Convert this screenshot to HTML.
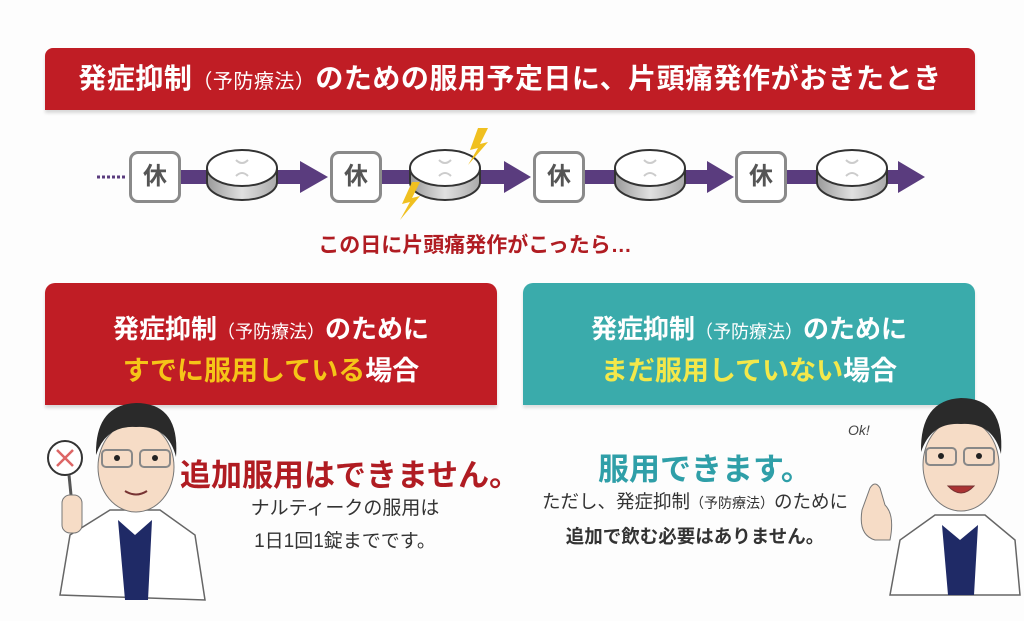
<!DOCTYPE html>
<html><head><meta charset="utf-8">
<style>
*{margin:0;padding:0;box-sizing:border-box}
body{width:1024px;height:621px;background:#fdfdfd;position:relative;overflow:hidden;font-family:"Liberation Sans","Noto Sans CJK JP",sans-serif}
.abs{position:absolute}
.banner{left:45px;top:48px;width:930px;height:62px;background:#c01d25;border-radius:8px 8px 0 0;color:#fff;font-size:28px;font-weight:bold;text-align:center;line-height:62px;letter-spacing:0.5px;box-shadow:0 3px 3px rgba(0,0,0,0.15)}
.sm{font-size:20px;font-weight:normal}
.kyu{width:52px;height:52px;border:3px solid #8a8a8a;border-radius:9px;background:#fff;font-size:24px;color:#555;text-align:center;line-height:46px;font-weight:bold;top:151px}
.box{top:283px;width:452px;height:122px;border-radius:10px 10px 0 0;text-align:center;color:#fff;font-weight:bold}
.box .l1{font-size:26px;margin-top:30px;line-height:32px}
.box .l1 .sm{font-size:18px}
.box .l2{font-size:27px;margin-top:6px;line-height:34px}
</style></head><body>
<div class="abs banner">発症抑制<span class="sm">（予防療法）</span>のための服用予定日に、片頭痛発作がおきたとき</div>

<svg class="abs" style="left:0;top:120px" width="1024" height="110">
  <line x1="97" y1="57" x2="127" y2="57" stroke="#5a3c7e" stroke-width="3" stroke-dasharray="3,2"/>
  <g fill="#5a3c7e">
    <rect x="181" y="50" width="122" height="14"/><polygon points="300,41 328,57 300,73"/>
    <rect x="382" y="50" width="124" height="14"/><polygon points="504,41 531,57 504,73"/>
    <rect x="585" y="50" width="124" height="14"/><polygon points="707,41 734,57 707,73"/>
    <rect x="787" y="50" width="114" height="14"/><polygon points="898,41 925,57 898,73"/>
  </g>
  <defs><linearGradient id="g" x1="0" x2="1"><stop offset="0" stop-color="#9a9a9a"/><stop offset="0.5" stop-color="#e0e0e0"/><stop offset="1" stop-color="#aaa"/></linearGradient></defs>
  <g id="p" stroke="#333" stroke-width="2">
    <path d="M207,48 v14 a35,18 0 0 0 70,0 v-14" fill="url(#g)"/>
    <ellipse cx="242" cy="48" rx="35" ry="18" fill="#fff"/>
    <path d="M236,40 q6,6 12,0 M236,56 q6,-6 12,0" stroke="#ccc" stroke-width="2" fill="none"/>
  </g>
  <use href="#p" x="203"/><use href="#p" x="408"/><use href="#p" x="610"/>
  <g fill="#f0c020">
    <polygon points="478,8 470,30 478,28 468,45 488,22 480,24 488,8"/>
    <polygon points="412,62 402,84 410,82 400,100 420,76 412,78 420,62"/>
  </g>
</svg>
<div class="abs kyu" style="left:129px">休</div>
<div class="abs kyu" style="left:330px">休</div>
<div class="abs kyu" style="left:533px">休</div>
<div class="abs kyu" style="left:735px">休</div>

<div class="abs" style="left:295px;top:229px;width:360px;text-align:center;color:#b01c22;font-size:21px;font-weight:bold">この日に片頭痛発作がこったら…</div>

<div class="abs box" style="left:45px;background:#c01d25;box-shadow:0 3px 3px rgba(0,0,0,0.15)">
  <div class="l1">発症抑制<span class="sm">（予防療法）</span>のために</div>
  <div class="l2"><span style="color:#f5c518">すでに服用している</span>場合</div>
</div>
<div class="abs box" style="left:523px;background:#3aabab;box-shadow:0 3px 3px rgba(0,0,0,0.12)">
  <div class="l1">発症抑制<span class="sm">（予防療法）</span>のために</div>
  <div class="l2"><span style="color:#f3e84a">まだ服用していない</span>場合</div>
</div>

<div class="abs" style="left:180px;top:450px;color:#b01c22;font-size:31px;font-weight:bold;white-space:nowrap">追加服用はできません。</div>
<div class="abs" style="left:205px;top:492px;width:280px;text-align:center;color:#333;font-size:19px;line-height:33px">ナルティークの服用は<br>1日1回1錠までです。</div>

<div class="abs" style="left:598px;top:444px;color:#2f9fa8;font-size:31px;font-weight:bold;white-space:nowrap">服用できます。</div>
<div class="abs" style="left:530px;top:485px;width:330px;text-align:center;color:#333;font-size:18.5px;line-height:33px">ただし、発症抑制<span style="font-size:14px">（予防療法）</span>のために<br><b>追加で飲む必要はありません。</b></div>
<div class="abs" style="left:848px;top:422px;font-size:14px;color:#444;font-style:italic">Ok!</div>

<!-- left doctor -->
<svg class="abs" style="left:40px;top:395px" width="170" height="226">
  <circle cx="25" cy="63" r="17" fill="#fff" stroke="#333" stroke-width="2"/>
  <path d="M17,55 L33,71 M33,55 L17,71" stroke="#d66" stroke-width="2.5"/>
  <line x1="29" y1="80" x2="32" y2="110" stroke="#555" stroke-width="3"/>
  <path d="M20,200 L30,140 L70,115 L120,115 L155,140 L165,205 Z" fill="#fff" stroke="#666" stroke-width="1.5"/>
  <path d="M78,125 L95,140 L112,125 L108,205 L85,205 Z" fill="#1f2a66"/>
  <rect x="22" y="100" width="20" height="38" rx="8" fill="#f6dcc6" stroke="#777"/>
  <ellipse cx="96" cy="72" rx="38" ry="45" fill="#f6dcc6" stroke="#777"/>
  <path d="M56,60 Q55,10 96,8 Q140,8 136,62 Q128,30 96,32 Q66,30 56,60 Z" fill="#2a2a2a"/>
  <rect x="62" y="55" width="30" height="17" rx="4" fill="none" stroke="#888" stroke-width="2"/>
  <rect x="100" y="55" width="30" height="17" rx="4" fill="none" stroke="#888" stroke-width="2"/>
  <circle cx="77" cy="63" r="3" fill="#222"/><circle cx="115" cy="63" r="3" fill="#222"/>
  <path d="M85,96 Q96,103 107,96" stroke="#733" stroke-width="2" fill="none"/>
</svg>
<!-- right doctor -->
<svg class="abs" style="left:850px;top:390px" width="174" height="231">
  <path d="M40,205 L50,150 L85,125 L135,125 L165,150 L170,205 Z" fill="#fff" stroke="#666" stroke-width="1.5"/>
  <path d="M92,135 L110,150 L128,135 L124,205 L98,205 Z" fill="#1f2a66"/>
  <path d="M12,120 Q8,145 25,150 L40,150 Q45,125 35,115 L30,98 Q25,90 20,98 Z" fill="#f6dcc6" stroke="#777"/>
  <ellipse cx="111" cy="75" rx="38" ry="46" fill="#f6dcc6" stroke="#777"/>
  <path d="M71,62 Q70,10 111,8 Q155,8 151,64 Q143,32 111,34 Q81,32 71,62 Z" fill="#2a2a2a"/>
  <rect x="76" y="58" width="30" height="17" rx="4" fill="none" stroke="#888" stroke-width="2"/>
  <rect x="114" y="58" width="30" height="17" rx="4" fill="none" stroke="#888" stroke-width="2"/>
  <circle cx="91" cy="66" r="3" fill="#222"/><circle cx="129" cy="66" r="3" fill="#222"/>
  <path d="M98,96 Q111,110 124,96 Z" fill="#a33" stroke="#733"/>
</svg>
</body></html>
